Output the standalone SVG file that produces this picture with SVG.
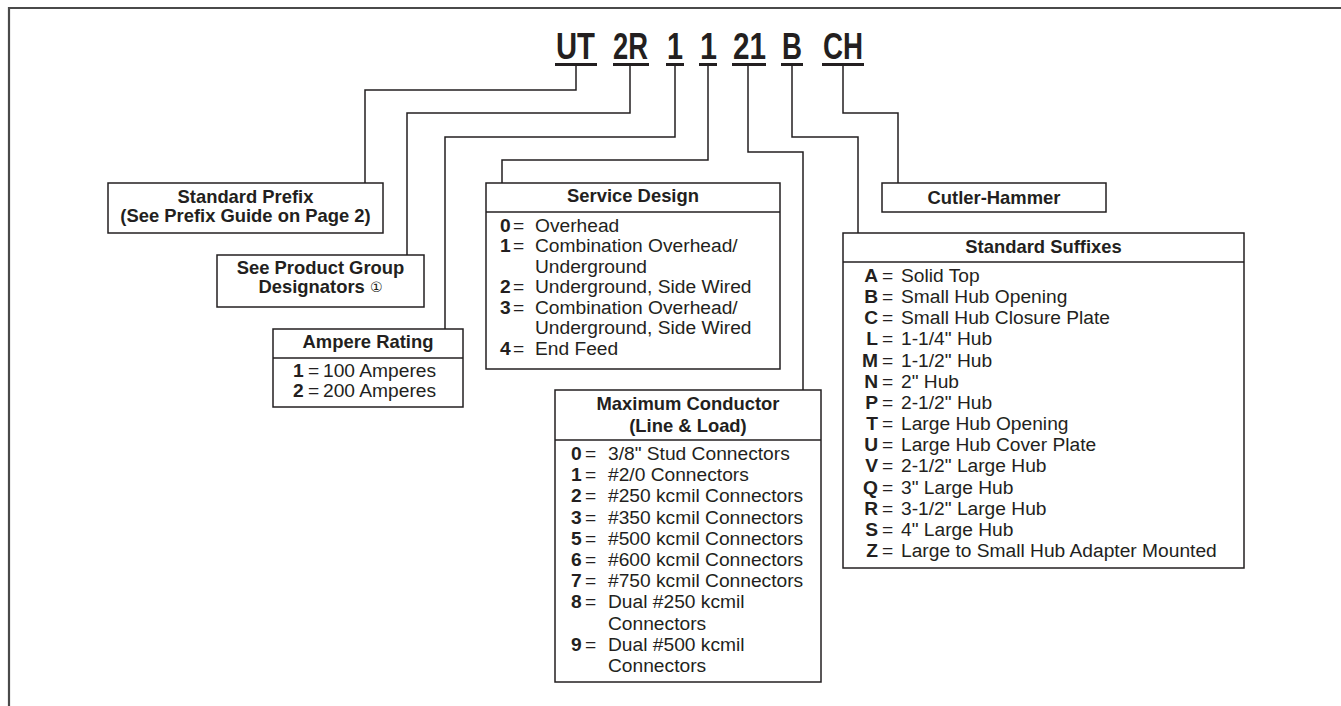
<svg xmlns="http://www.w3.org/2000/svg" width="1341" height="706" viewBox="0 0 1341 706">
<style>
.box{fill:#fff;stroke:#231f20;stroke-width:1.5}
.div{stroke:#231f20;stroke-width:1.5}
.con{fill:none;stroke:#231f20;stroke-width:1.5}
.ul{fill:#231f20}
.code{font-family:"Liberation Sans",Arial,sans-serif;font-weight:bold;font-size:36px;fill:#231f20}
.h{font-family:"Liberation Sans",Arial,sans-serif;font-weight:bold;font-size:18.4px;fill:#231f20;text-anchor:middle}
.t{font-family:"Liberation Sans",Arial,sans-serif;font-size:19.2px;fill:#231f20}
.k{font-weight:bold}
.e{text-anchor:end}
</style>
<rect width="1341" height="706" fill="#fff"/>
<path d="M9,712 V8 H1345" fill="none" stroke="#4a4a4a" stroke-width="2.2"/>

<g id="code">
<text class="code" x="556" y="59" textLength="39" lengthAdjust="spacingAndGlyphs">UT</text>
<text class="code" x="613" y="59" textLength="35" lengthAdjust="spacingAndGlyphs">2R</text>
<text class="code" x="667" y="59" textLength="16" lengthAdjust="spacingAndGlyphs">1</text>
<text class="code" x="700" y="59" textLength="17" lengthAdjust="spacingAndGlyphs">1</text>
<text class="code" x="733" y="59" textLength="33" lengthAdjust="spacingAndGlyphs">21</text>
<text class="code" x="782" y="59" textLength="20" lengthAdjust="spacingAndGlyphs">B</text>
<text class="code" x="823" y="59" textLength="40" lengthAdjust="spacingAndGlyphs">CH</text>
<rect class="ul" x="555" y="63" width="42" height="3"/>
<rect class="ul" x="613" y="63" width="36" height="3"/>
<rect class="ul" x="666" y="63" width="18" height="3"/>
<rect class="ul" x="699" y="63" width="18" height="3"/>
<rect class="ul" x="732" y="63" width="34" height="3"/>
<rect class="ul" x="781" y="63" width="22" height="3"/>
<rect class="ul" x="822" y="63" width="42" height="3"/>
</g>

<g id="connectors">
<path class="con" d="M576,65 V90 H365 V183"/>
<path class="con" d="M630,65 V113 H407 V255"/>
<path class="con" d="M675,65 V137 H445 V329"/>
<path class="con" d="M708,65 V160 H502 V183"/>
<path class="con" d="M748,65 V152 H803 V390"/>
<path class="con" d="M792,65 V137 H858 V233"/>
<path class="con" d="M843,65 V113 H898 V183"/>
</g>

<g id="prefix">
<rect class="box" x="108" y="183" width="275" height="50"/>
<text class="h" x="245.5" y="203">Standard Prefix</text>
<text class="h" x="245.5" y="222">(See Prefix Guide on Page 2)</text>
</g>

<g id="product-group">
<rect class="box" x="217" y="255" width="207" height="52"/>
<text class="h" x="320.5" y="274">See Product Group</text>
<text class="h" x="320.5" y="293">Designators <tspan font-family="'DejaVu Sans',sans-serif" font-weight="normal" font-size="14px" dy="-1">①</tspan></text>
</g>

<g id="ampere">
<rect class="box" x="273" y="329" width="190" height="78"/>
<line class="div" x1="273" y1="358" x2="463" y2="358"/>
<text class="h" x="368" y="348">Ampere Rating</text>
<text class="t" y="377"><tspan class="k" x="293">1</tspan><tspan x="308">=</tspan><tspan x="323">100 Amperes</tspan></text>
<text class="t" y="397"><tspan class="k" x="293">2</tspan><tspan x="308">=</tspan><tspan x="323">200 Amperes</tspan></text>
</g>

<g id="service-design">
<rect class="box" x="486" y="183" width="294" height="186"/>
<line class="div" x1="486" y1="212" x2="780" y2="212"/>
<text class="h" x="633" y="202">Service Design</text>
<text class="t" y="231.5"><tspan class="k" x="500">0</tspan><tspan x="513">=</tspan><tspan x="535">Overhead</tspan></text>
<text class="t" y="252"><tspan class="k" x="500">1</tspan><tspan x="513">=</tspan><tspan x="535">Combination Overhead/</tspan></text>
<text class="t" y="272.5"><tspan x="535">Underground</tspan></text>
<text class="t" y="293"><tspan class="k" x="500">2</tspan><tspan x="513">=</tspan><tspan x="535">Underground, Side Wired</tspan></text>
<text class="t" y="313.5"><tspan class="k" x="500">3</tspan><tspan x="513">=</tspan><tspan x="535">Combination Overhead/</tspan></text>
<text class="t" y="334"><tspan x="535">Underground, Side Wired</tspan></text>
<text class="t" y="354.5"><tspan class="k" x="500">4</tspan><tspan x="513">=</tspan><tspan x="535">End Feed</tspan></text>
</g>

<g id="max-conductor">
<rect class="box" x="555" y="390" width="266" height="292"/>
<line class="div" x1="555" y1="440" x2="821" y2="440"/>
<text class="h" x="688" y="410">Maximum Conductor</text>
<text class="h" x="688" y="432">(Line &amp; Load)</text>
<text class="t" y="460"><tspan class="k" x="571">0</tspan><tspan x="585">=</tspan><tspan x="608">3/8" Stud Connectors</tspan></text>
<text class="t" y="481.2"><tspan class="k" x="571">1</tspan><tspan x="585">=</tspan><tspan x="608">#2/0 Connectors</tspan></text>
<text class="t" y="502.4"><tspan class="k" x="571">2</tspan><tspan x="585">=</tspan><tspan x="608">#250 kcmil Connectors</tspan></text>
<text class="t" y="523.6"><tspan class="k" x="571">3</tspan><tspan x="585">=</tspan><tspan x="608">#350 kcmil Connectors</tspan></text>
<text class="t" y="544.8"><tspan class="k" x="571">5</tspan><tspan x="585">=</tspan><tspan x="608">#500 kcmil Connectors</tspan></text>
<text class="t" y="566"><tspan class="k" x="571">6</tspan><tspan x="585">=</tspan><tspan x="608">#600 kcmil Connectors</tspan></text>
<text class="t" y="587.2"><tspan class="k" x="571">7</tspan><tspan x="585">=</tspan><tspan x="608">#750 kcmil Connectors</tspan></text>
<text class="t" y="608.4"><tspan class="k" x="571">8</tspan><tspan x="585">=</tspan><tspan x="608">Dual #250 kcmil</tspan></text>
<text class="t" y="629.6"><tspan x="608">Connectors</tspan></text>
<text class="t" y="650.8"><tspan class="k" x="571">9</tspan><tspan x="585">=</tspan><tspan x="608">Dual #500 kcmil</tspan></text>
<text class="t" y="672"><tspan x="608">Connectors</tspan></text>
</g>

<g id="cutler-hammer">
<rect class="box" x="882" y="183" width="224" height="29"/>
<text class="h" x="994" y="204">Cutler-Hammer</text>
</g>

<g id="suffixes">
<rect class="box" x="843" y="233" width="401" height="335"/>
<line class="div" x1="843" y1="262" x2="1244" y2="262"/>
<text class="h" x="1043.5" y="253">Standard Suffixes</text>
<text class="t" y="282"><tspan class="k e" x="878">A</tspan><tspan x="882">=</tspan><tspan x="901">Solid Top</tspan></text>
<text class="t" y="303.15"><tspan class="k e" x="878">B</tspan><tspan x="882">=</tspan><tspan x="901">Small Hub Opening</tspan></text>
<text class="t" y="324.3"><tspan class="k e" x="878">C</tspan><tspan x="882">=</tspan><tspan x="901">Small Hub Closure Plate</tspan></text>
<text class="t" y="345.45"><tspan class="k e" x="878">L</tspan><tspan x="882">=</tspan><tspan x="901">1-1/4" Hub</tspan></text>
<text class="t" y="366.6"><tspan class="k e" x="878">M</tspan><tspan x="882">=</tspan><tspan x="901">1-1/2" Hub</tspan></text>
<text class="t" y="387.75"><tspan class="k e" x="878">N</tspan><tspan x="882">=</tspan><tspan x="901">2" Hub</tspan></text>
<text class="t" y="408.9"><tspan class="k e" x="878">P</tspan><tspan x="882">=</tspan><tspan x="901">2-1/2" Hub</tspan></text>
<text class="t" y="430.05"><tspan class="k e" x="878">T</tspan><tspan x="882">=</tspan><tspan x="901">Large Hub Opening</tspan></text>
<text class="t" y="451.2"><tspan class="k e" x="878">U</tspan><tspan x="882">=</tspan><tspan x="901">Large Hub Cover Plate</tspan></text>
<text class="t" y="472.35"><tspan class="k e" x="878">V</tspan><tspan x="882">=</tspan><tspan x="901">2-1/2" Large Hub</tspan></text>
<text class="t" y="493.5"><tspan class="k e" x="878">Q</tspan><tspan x="882">=</tspan><tspan x="901">3" Large Hub</tspan></text>
<text class="t" y="514.65"><tspan class="k e" x="878">R</tspan><tspan x="882">=</tspan><tspan x="901">3-1/2" Large Hub</tspan></text>
<text class="t" y="535.8"><tspan class="k e" x="878">S</tspan><tspan x="882">=</tspan><tspan x="901">4" Large Hub</tspan></text>
<text class="t" y="556.95"><tspan class="k e" x="878">Z</tspan><tspan x="882">=</tspan><tspan x="901">Large to Small Hub Adapter Mounted</tspan></text>
</g>
</svg>
